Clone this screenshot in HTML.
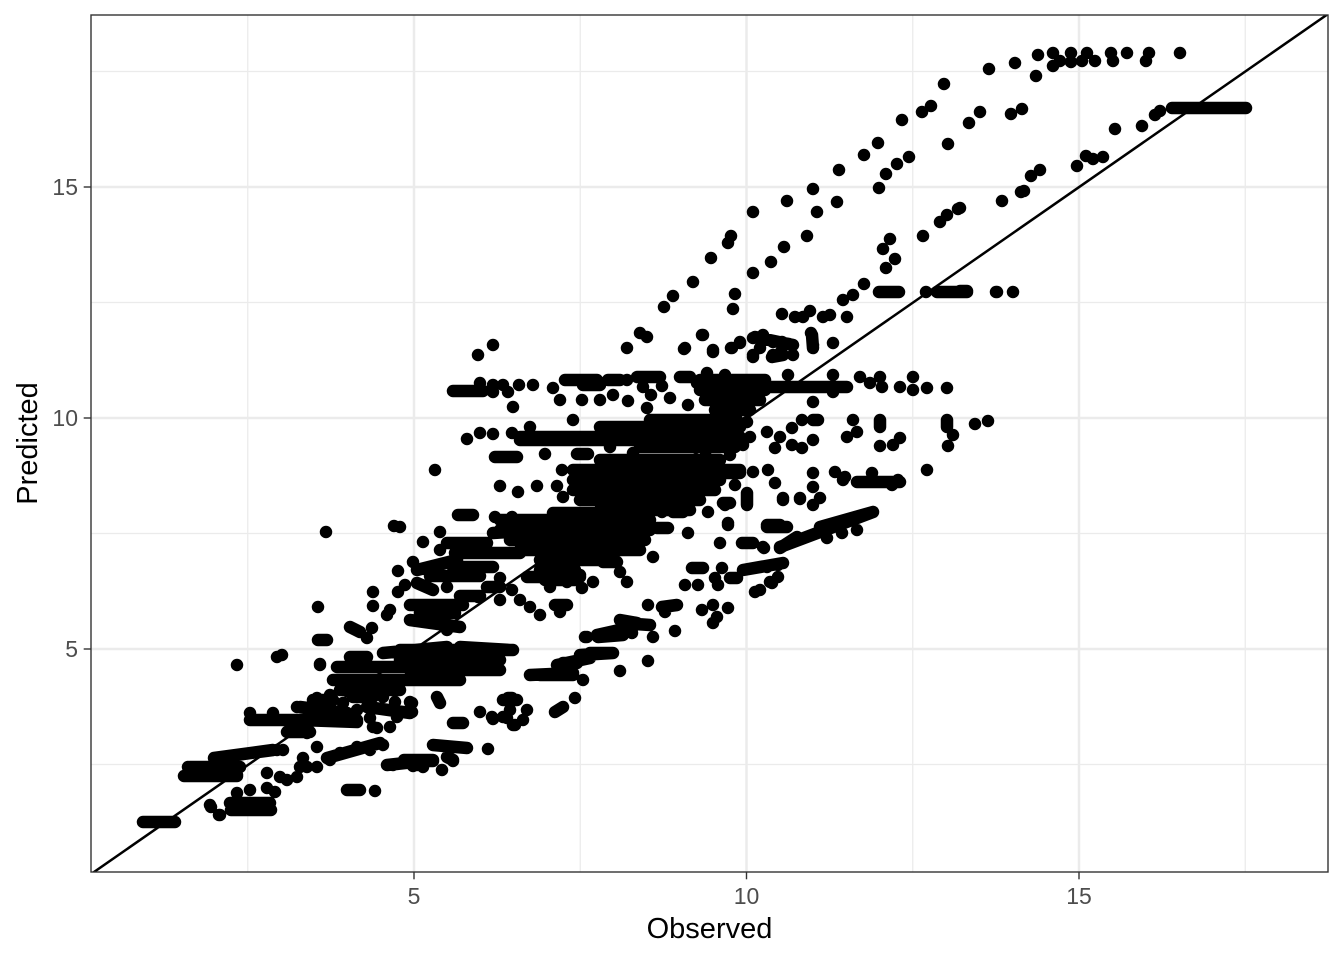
<!DOCTYPE html>
<html><head><meta charset="utf-8"><style>
html,body{margin:0;padding:0;background:#fff;}
svg{display:block;}
</style></head><body>
<svg width="1344" height="960" viewBox="0 0 1344 960" xmlns="http://www.w3.org/2000/svg">
<rect x="0" y="0" width="1344" height="960" fill="#fff"/>
<defs><clipPath id="pc"><rect x="91" y="15" width="1237" height="857"/></clipPath></defs>
<g stroke="#ebebeb" stroke-width="1.3" fill="none">
<line x1="247.75" y1="15" x2="247.75" y2="872"/><line x1="580.25" y1="15" x2="580.25" y2="872"/><line x1="912.75" y1="15" x2="912.75" y2="872"/><line x1="1245.25" y1="15" x2="1245.25" y2="872"/>
<line x1="91" y1="764.5" x2="1328" y2="764.5"/><line x1="91" y1="533.5" x2="1328" y2="533.5"/><line x1="91" y1="302.5" x2="1328" y2="302.5"/><line x1="91" y1="71.5" x2="1328" y2="71.5"/>
</g>
<g stroke="#ebebeb" stroke-width="2.5" fill="none">
<line x1="414" y1="15" x2="414" y2="872"/><line x1="746.5" y1="15" x2="746.5" y2="872"/><line x1="1079" y1="15" x2="1079" y2="872"/>
<line x1="91" y1="649" x2="1328" y2="649"/><line x1="91" y1="418" x2="1328" y2="418"/><line x1="91" y1="187" x2="1328" y2="187"/>
</g>
<g clip-path="url(#pc)">
<path fill="none" stroke="#000" stroke-width="12.5" stroke-linecap="round" stroke-linejoin="round" d="
M143 822H175 M184 776H237 M190 767H240 M214 758L273 750 M188 767h0
M250 720H357 M250 713h0 M273 713h0 M297 707h0 M317 698h0 M330 695h0 M343 703h0 M357 710h0 M370 693h0 M383 697h0 M370 718h0 M395 702h0 M410 702h0 M412 712h0 M397 717h0 M377 728h0 M390 727h0
M287 732H310 M237 775h0 M267 773h0 M277 750h0 M283 750h0
M210 805h0 M220 815h0 M230 803H270 M237 793h0 M250 790h0 M267 788h0 M275 792h0 M280 777h0 M287 780h0 M297 777h0 M307 767h0 M317 767h0 M330 760h0 M340 753h0 M357 747h0 M370 750h0 M383 745h0 M303 758h0 M317 747h0
M211 807h0 M219 815h0 M231 810H271
M347 790H360 M375 791h0
M393 765h0 M407 760h0 M417 765h0 M423 767h0 M404 760H431
M237 665h0 M277 657h0 M282 655h0 M320 665h0
M318 640H327 M320 664h0 M318 607h0 M326 532h0 M394 526h0
M373 592h0 M373 606h0 M398 571h0 M398 592h0 M405 585h0 M423 542h0 M440 532h0 M440 550h0 M413 562h0 M400 527h0
M458 515H473 M495 517h0 M512 517h0
M350 627L360 632 M367 638h0 M372 628h0 M387 615h0 M390 610h0 M410 605H463 M410 620L460 627 M447 630h0 M420 613H455
M417 570L457 560 M417 583L433 590 M447 587h0 M453 567H493 M487 587H500 M430 576H480 M460 596H480
M447 543H487 M493 533L540 530 M540 520h0 M553 513H633 M455 553H520
M478 597h0 M500 600h0 M520 600h0 M530 607h0 M512 590h0 M468 575h0
M500 520H650 M500 530H650 M510 540H645 M520 550H640
M527 577H567 M500 578h0 M553 572h0 M567 582h0 M580 577h0 M593 582h0 M582 588h0 M603 562H617 M620 572h0 M627 582h0
M540 560H600 M540 570H575 M550 587h0 M545 580H575
M337 667H417 M333 680H460 M350 657H367 M383 653L447 647 M460 647L510 650 M457 660h0 M460 667h0 M433 673h0
M400 650H513 M400 660H500 M410 670H500 M340 690H400
M313 700H333 M300 707L347 713 M353 697H373 M367 707L410 713 M373 727h0 M390 727h0 M300 720L357 722 M307 733h0 M437 697L440 703 M412 703h0 M410 713h0
M480 712h0 M492 717h0 M453 723H463 M503 700H517 M503 717h0 M513 725h0 M527 710h0 M510 710h0 M508 698H512 M507 718h0 M515 725h0 M523 720h0 M493 719h0
M530 675L573 673 M557 665L590 658 M590 653H613 M620 671h0 M583 680h0 M575 698h0 M555 712L563 707
M585 637h0 M597 635L633 627 M620 620L637 623
M433 745L467 748 M488 749h0 M447 757L453 760 M442 770h0 M387 765L433 760 M317 747h0 M327 758L380 743 M300 767h0 M407 761H433 M413 766h0 M453 761h0
M555 605H567 M560 612h0 M540 615h0
M648 605h0 M662 607L677 605 M665 612h0 M702 610h0 M713 605h0 M728 608h0 M717 617h0 M713 623h0 M622 623L650 625 M632 633h0 M653 637h0 M675 631h0 M587 637h0 M598 637L623 635
M580 655L613 653 M563 663H577 M540 675H573 M648 661h0
M662 512h0 M673 512H683 M708 512h0 M688 502h0 M725 505h0 M747 505h0 M783 500h0
M657 528H668 M688 533h0 M728 525h0 M767 527H787 M720 543h0 M742 543H753 M764 548h0 M780 548L797 537
M653 557h0 M607 562H613 M580 575h0
M692 568H703 M722 568h0 M715 578h0 M718 585h0 M730 578H737 M685 585h0 M698 585h0 M743 570L783 563 M770 582h0 M778 577h0 M755 592h0 M767 567h0 M778 565h0 M772 583h0 M760 590h0
M780 547L873 512 M857 530h0 M842 533h0 M827 538h0 M763 547h0 M820 527L873 512
M775 483h0 M783 499h0 M800 499h0 M813 487h0 M813 505h0 M820 498h0 M843 480h0 M857 482H900
M728 523h0 M767 525H780
M573 470H740 M573 480H720 M573 490H715 M580 500H700 M600 460H720 M600 510H690
M520 440H653 M600 427H740 M520 437H740 M640 447H735 M650 420H735 M573 420h0 M530 427h0 M610 447h0 M633 453h0
M495 457H517 M545 454h0 M577 454H588 M562 470h0 M435 470h0 M500 486h0 M518 492h0 M537 486h0 M557 486h0 M563 497h0
M705 457h0 M697 485h0
M467 439h0 M480 433h0 M493 434h0 M512 433h0
M453 391H483 M480 383h0 M493 385h0 M493 392h0 M503 385h0 M508 392h0 M519 385h0 M533 385h0
M478 355h0 M493 345h0 M513 407h0
M553 388h0 M560 400h0 M565 380H597 M583 385H600 M582 400h0 M600 400h0 M613 395h0 M628 401h0 M608 380H620 M627 380h0 M637 377H660 M643 387h0 M651 395h0 M647 408h0 M662 386h0 M670 398h0 M680 377H690 M688 405h0 M697 383h0 M707 373h0 M713 390h0
M627 348h0 M640 333h0 M647 337h0 M685 348h0 M702 335h0 M713 352h0
M703 335h0 M732 348h0 M740 342h0 M755 337L793 345 M760 348h0 M753 357h0 M772 357L783 355 M793 355h0 M812 335L813 348 M833 343h0
M700 387H847 M700 380H765 M700 390H765 M705 400H760 M715 410H750 M707 373h0 M725 375h0 M788 375h0 M833 375h0 M813 402h0 M833 392h0
M860 377h0 M870 383h0 M880 377h0 M882 387h0 M900 387h0 M913 377h0 M913 390h0 M927 388h0 M947 388h0
M700 420H737 M700 430H737 M700 440H737 M747 422h0 M750 437h0 M767 432h0 M780 437h0 M792 428h0 M802 420h0 M813 420H818 M813 440h0 M792 445h0 M802 448h0 M775 448h0 M743 445h0 M853 420h0 M847 437h0 M857 432h0 M880 420L880 427 M880 446h0 M893 445h0 M900 438h0 M947 420L947 427 M953 435h0 M948 446h0 M975 424h0 M988 421h0
M700 473H740 M707 458h0 M730 455h0 M753 472h0 M768 470h0 M813 473h0 M835 472h0 M845 477h0 M860 482h0 M872 473h0 M880 482h0 M892 485h0 M898 480h0 M927 470h0
M715 490h0 M735 485h0 M747 493L747 505 M783 498h0 M800 498h0 M723 503H730
M664 307h0 M673 296h0 M693 282h0 M711 258h0 M728 243h0 M731 236h0 M753 212h0 M787 201h0 M813 189h0 M839 170h0 M864 155h0 M878 143h0 M902 120h0 M922 112h0 M931 106h0 M944 84h0 M989 69h0 M1015 63h0
M684 349h0 M713 350h0 M731 348h0 M740 343h0 M733 309h0 M735 294h0 M753 273h0 M771 262h0 M784 247h0 M807 236h0 M817 212h0 M837 202h0 M879 188h0 M886 174h0 M897 164h0 M909 157h0 M948 144h0 M969 123h0 M980 112h0 M1011 114h0 M1022 109h0
M883 249h0 M890 239h0 M886 268h0 M895 259h0 M923 236h0 M940 222h0 M947 215h0 M958 209h0 M1002 201h0 M1021 192h0
M879 292H899 M926 292h0 M937 292H967 M996 292h0 M1013 292h0
M864 284h0 M853 295h0 M843 300h0 M847 317h0 M830 315h0 M823 317h0 M810 311h0 M803 317h0 M795 317h0 M782 314h0
M811 333h0 M813 345h0 M833 343h0
M753 338h0 M763 335h0 M773 342h0 M782 342h0 M789 344h0 M753 355h0 M773 355h0 M780 353h0
M1038 55h0 M1036 76h0 M1053 53h0 M1053 66h0 M1060 61h0 M1071 53h0 M1071 62h0 M1082 61h0 M1087 53h0 M1095 61h0 M1111 53h0 M1113 61h0 M1127 53h0 M1149 53h0 M1146 61h0 M1180 53h0
M1155 115h0 M1160 111h0 M1172 108H1246
M1115 129h0 M1142 126h0
M1077 166h0 M1086 156h0 M1093 159h0 M1103 157h0
M1031 176h0 M1040 170h0 M1024 191h0 M960 208h0
M960 291H967 M997 292h0 M1013 292h0
"/>
<line x1="91" y1="874.1" x2="1328" y2="14" stroke="#000" stroke-width="2.5"/>
</g>
<rect x="91" y="15" width="1237" height="857" fill="none" stroke="#333" stroke-width="1.4"/>
<g stroke="#333" stroke-width="1.4">
<line x1="414" y1="872" x2="414" y2="879.3"/><line x1="746.5" y1="872" x2="746.5" y2="879.3"/><line x1="1079" y1="872" x2="1079" y2="879.3"/>
<line x1="83.7" y1="649" x2="91" y2="649"/><line x1="83.7" y1="418" x2="91" y2="418"/><line x1="83.7" y1="187" x2="91" y2="187"/>
</g>
<g font-family="Liberation Sans, Arial, sans-serif" font-size="23" fill="#4d4d4d">
<text x="414" y="904" text-anchor="middle">5</text>
<text x="746.5" y="904" text-anchor="middle">10</text>
<text x="1079" y="904" text-anchor="middle">15</text>
<text x="78" y="657" text-anchor="end">5</text>
<text x="78" y="426" text-anchor="end">10</text>
<text x="78" y="195" text-anchor="end">15</text>
</g>
<g font-family="Liberation Sans, Arial, sans-serif" font-size="29" fill="#000">
<text x="709.5" y="938" text-anchor="middle">Observed</text>
<text transform="translate(37,443.5) rotate(-90)" text-anchor="middle">Predicted</text>
</g>
</svg>
</body></html>
